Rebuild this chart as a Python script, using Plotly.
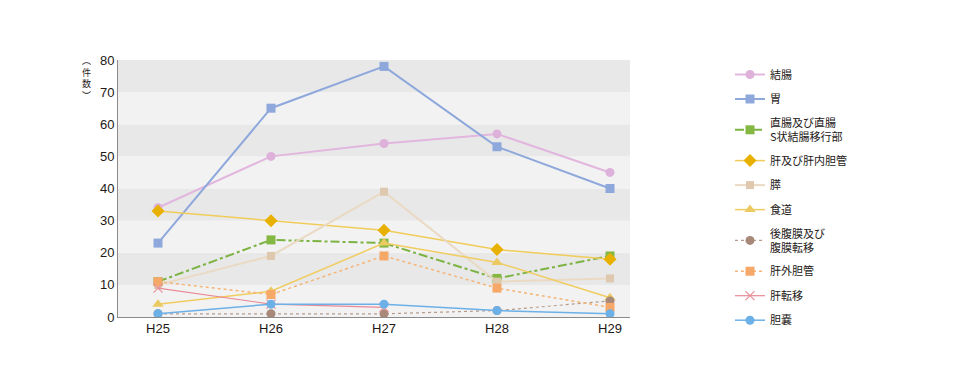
import plotly.graph_objects as go

years = ["H25", "H26", "H27", "H28", "H29"]

colon = [34, 50, 54, 57, 45]            # 結腸
stomach = [23, 65, 78, 53, 40]          # 胃
rectum = [11, 24, 23, 12, 19]           # 直腸及び直腸S状結腸移行部
liver = [33, 30, 27, 21, 18]            # 肝及び肝内胆管
pancreas = [10, 19, 39, 11, 12]         # 膵
esophagus = [4, 8, 23, 17, 6]           # 食道
retroperit = [1, 1, 1, 2, 5]            # 後腹膜及び腹膜転移
bileduct = [11, 7, 19, 9, 3]            # 肝外胆管
livermeta = [9, 4, 3, None, None]       # 肝転移
gallbladder = [1, 4, 4, 2, 1]           # 胆嚢

yticks = [0, 10, 20, 30, 40, 50, 60, 70, 80]

series = [
    ("結腸", colon, dict(color="#e2b6de", width=2), dict(symbol="circle", size=9, color="#ddb1da")),
    ("胃", stomach, dict(color="#8fa8dc", width=2), dict(symbol="square", size=9, color="#8fa8dc")),
    ("直腸及び直腸<br>S状結腸移行部", rectum, dict(color="#7cb342", width=2, dash="dashdot"), dict(symbol="square", size=9, color="#84b843")),
    ("肝及び肝内胆管", liver, dict(color="#f0cc5a", width=1.5), dict(symbol="diamond", size=10, color="#e8b000")),
    ("膵", pancreas, dict(color="#ead9c3", width=2), dict(symbol="square", size=8, color="#dec8ae")),
    ("食道", esophagus, dict(color="#f0cc60", width=1.5), dict(symbol="triangle-up", size=10, color="#ecca62")),
    ("後腹膜及び<br>腹膜転移", retroperit, dict(color="#b89a8c", width=1.2, dash="dot"), dict(symbol="circle", size=9, color="#a88878")),
    ("肝外胆管", bileduct, dict(color="#f6b476", width=1.5, dash="dot"), dict(symbol="square", size=9, color="#f5a868")),
    ("肝転移", livermeta, dict(color="#e88a96", width=1.2), dict(symbol="x-thin-open", size=9, color="#e8909a", line=dict(width=1.2, color="#e8909a"))),
    ("胆嚢", gallbladder, dict(color="#6cb0e8", width=1.5), dict(symbol="circle", size=9, color="#6cb0e8")),
]

xpos = list(range(len(years)))

fig = go.Figure()
for i, (name, vals, line, marker) in enumerate(series):
    fig.add_trace(go.Scatter(
        x=xpos, y=vals, name=name, mode="lines+markers",
        line=line, marker=marker, legendgroup=f"g{i}",
        connectgaps=False,
    ))

# alternating background bands
shapes = []
for k, lo in enumerate(yticks[:-1]):
    shapes.append(dict(
        type="rect", xref="paper", yref="y", x0=0, x1=1, y0=lo, y1=lo + 10,
        fillcolor="#f2f2f2" if k % 2 == 0 else "#e8e8e8",
        line=dict(width=0), layer="below",
    ))

# page body has an 8px margin, so the figure is 8px smaller and shifted
fig.update_layout(
    width=954, height=376,
    margin=dict(l=110, r=332, t=52, b=67, autoexpand=False),
    paper_bgcolor="white", plot_bgcolor="white",
    shapes=shapes,
    showlegend=True,
    legend=dict(
        x=(730 - 118) / 512, y=1.0, xanchor="left", yanchor="top",
        font=dict(family="Noto Sans CJK JP", size=11, color="#231815"),
        tracegroupgap=5.5, bgcolor="rgba(0,0,0,0)", maxheight=370,
    ),
    xaxis=dict(
        range=[-0.354, 4.177], tickvals=xpos, ticktext=years,
        showgrid=False, zeroline=False, showline=True, linecolor="#8a8a8a", linewidth=1,
        ticks="", tickfont=dict(family="Liberation Sans", size=13, color="#231815"),
        ticklabelstandoff=-1, fixedrange=True,
    ),
    yaxis=dict(
        range=[0, 80], tickvals=yticks, showgrid=False, zeroline=False,
        showline=True, linecolor="#8a8a8a", linewidth=1, ticks="",
        tickfont=dict(family="Liberation Sans", size=13, color="#231815"),
        fixedrange=True,
    ),
    annotations=[dict(
        text="︵<br>件<br>数<br>︶", xref="paper", yref="paper",
        x=(86 - 118) / 512, y=1.03, xanchor="center", yanchor="top",
        showarrow=False, align="center",
        font=dict(family="Noto Sans CJK JP", size=9, color="#231815"),
    )],
)

fig.write_html("out.html")
